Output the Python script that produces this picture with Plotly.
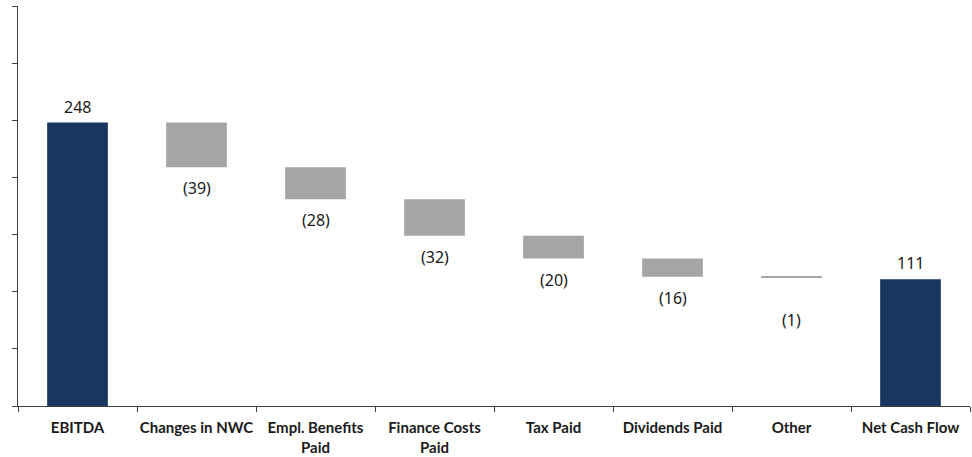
import plotly.graph_objects as go

categories = ["EBITDA", "Changes in NWC", "Empl. Benefits<br>Paid", "Finance Costs<br>Paid",
              "Tax Paid", "Dividends Paid", "Other", "Net Cash Flow"]
values = [248, -39, -28, -32, -20, -16, -1, 111]
labels = ["248", "(39)", "(28)", "(32)", "(20)", "(16)", "(1)", "111"]
is_total = [True, False, False, False, False, False, False, True]

NAVY = "#17375E"
GREY = "#A5A5A5"

# Floating bars: totals start at zero, movements hang from the running total
bases, heights, colors = [], [], []
running = 0
for v, tot in zip(values, is_total):
    if tot:
        bases.append(0)
        heights.append(v)
        colors.append(NAVY)
        running = v
    else:
        new = running + v
        bases.append(new)
        heights.append(-v)
        colors.append(GREY)
        running = new

fig = go.Figure()
fig.add_trace(go.Bar(
    x=categories, y=heights, base=bases,
    marker=dict(color=colors, line=dict(width=0)),
    width=0.51, hoverinfo="skip", showlegend=False,
))

label_font = dict(family="Noto Sans, Open Sans, sans-serif", size=16, color="#1a1a1a")
for cat, b, h, tot, lab in zip(categories, bases, heights, is_total, labels):
    if tot:
        fig.add_annotation(x=cat, y=b + h, text=lab, showarrow=False,
                           yanchor="bottom", yshift=3, font=label_font)
    else:
        shift = -29 if h < 3 else -8
        fig.add_annotation(x=cat, y=b, text=lab, showarrow=False,
                           yanchor="top", yshift=shift, font=label_font)

fig.update_layout(
    width=972, height=457,
    margin=dict(l=18, r=2, t=6, b=51, autoexpand=False),
    plot_bgcolor="white", paper_bgcolor="white",
    bargap=0.49,
    font=dict(family="Lato, Open Sans, sans-serif", size=15, color="#1a1a1a"),
)
fig.update_xaxes(
    type="category", showline=True, linecolor="#404040", linewidth=1,
    ticks="outside", tickson="boundaries", ticklen=5, tickcolor="#404040",
    tickfont=dict(family="Lato, sans-serif", size=15, color="#1a1a1a", weight="bold"),
    tickangle=0, automargin=False, ticklabelstandoff=8,
    showgrid=False, fixedrange=True,
)
fig.update_yaxes(
    range=[0, 350], dtick=50, showticklabels=False, showline=True,
    linecolor="#404040", linewidth=1, ticks="outside", ticklen=5,
    tickcolor="#404040", showgrid=False, zeroline=False, fixedrange=True,
    automargin=False,
)

fig.write_html("out.html", config={"displayModeBar": False})
